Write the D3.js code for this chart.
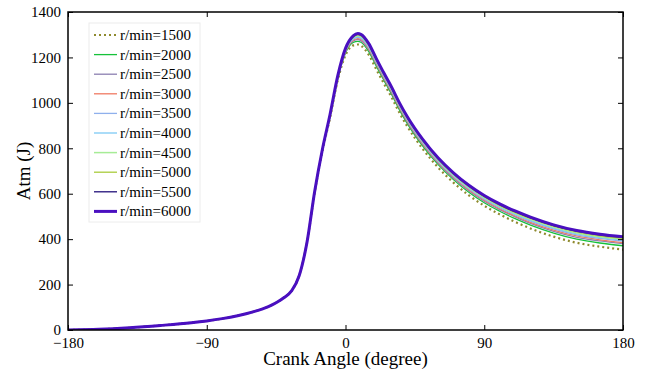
<!DOCTYPE html>
<html>
<head>
<meta charset="utf-8">
<script src="https://cdn.jsdelivr.net/npm/d3@7"></script>
</head>
<body style="margin:0; background:#fff">
<div id="chart"></div>
<script>
// crank angle samples (degree)
const compressionAngles = [-180, -160, -140, -120, -100, -90, -80, -70, -60, -50, -45, -40, -35, -30, -25];
const combustionAngles = [-20, -15, -10, -5, 0, 5, 8, 10, 15, 20, 25, 30, 35, 40, 50, 60, 70, 80, 90, 100, 110, 120, 135, 150, 165, 180];

// compression stroke is the same for every speed
const compression = [0, 3, 10, 20, 32, 40, 50, 63, 80, 103, 120, 142, 172, 240, 385];

// values after -20 degree, one list per engine speed
const rpm1500 = [605, 785, 935, 1100, 1210, 1253, 1257, 1252, 1212, 1147, 1084, 1023, 956, 897, 798, 716, 649, 593, 547, 509, 476, 447, 411, 384, 367, 354];
const rpm2000 = [606, 788, 939, 1106, 1219, 1266, 1271, 1267, 1227, 1161, 1098, 1036, 969, 910, 811, 729, 662, 606, 560, 523, 490, 462, 427, 400, 383, 371];
const rpm2500 = [607, 789, 942, 1109, 1223, 1272, 1279, 1274, 1234, 1169, 1105, 1043, 976, 916, 817, 735, 668, 613, 567, 530, 498, 469, 434, 408, 392, 380];
const rpm3000 = [608, 790, 943, 1111, 1226, 1276, 1283, 1279, 1239, 1173, 1109, 1048, 980, 921, 821, 739, 673, 617, 572, 534, 502, 474, 440, 414, 397, 385];
const rpm3500 = [608, 791, 945, 1113, 1229, 1280, 1288, 1284, 1244, 1178, 1114, 1052, 985, 925, 825, 743, 677, 622, 576, 539, 507, 479, 445, 419, 403, 391];
const rpm4000 = [609, 792, 946, 1115, 1232, 1284, 1292, 1288, 1248, 1182, 1118, 1056, 988, 928, 829, 747, 680, 625, 580, 543, 511, 483, 449, 423, 407, 396];
const rpm4500 = [609, 793, 947, 1116, 1234, 1287, 1295, 1292, 1252, 1185, 1121, 1059, 991, 931, 832, 750, 683, 628, 583, 546, 514, 487, 453, 427, 411, 400];
const rpm5000 = [609, 794, 948, 1118, 1236, 1290, 1299, 1296, 1256, 1189, 1124, 1063, 995, 935, 835, 753, 687, 632, 587, 549, 518, 491, 457, 432, 415, 404];
const rpm5500 = [610, 794, 949, 1119, 1238, 1292, 1302, 1299, 1259, 1192, 1127, 1065, 997, 937, 837, 755, 689, 634, 589, 552, 521, 494, 460, 435, 419, 408];
const rpm6000 = [610, 795, 950, 1120, 1240, 1295, 1305, 1302, 1262, 1195, 1130, 1068, 1000, 940, 840, 758, 692, 637, 592, 555, 524, 497, 463, 438, 422, 411];

const seriesNames = ["r/min=1500", "r/min=2000", "r/min=2500", "r/min=3000", "r/min=3500",
                     "r/min=4000", "r/min=4500", "r/min=5000", "r/min=5500", "r/min=6000"];
const seriesValues = [rpm1500, rpm2000, rpm2500, rpm3000, rpm3500, rpm4000, rpm4500, rpm5000, rpm5500, rpm6000];
const seriesColors = ["#8f8a2e", "#16c23a", "#8c7fb0", "#f07a62", "#8fb0ec", "#7ccaf5", "#a6ec96", "#a9cc3c", "#22107a", "#4a0fc0"];
const seriesWidths = [2.2, 1.3, 1.3, 1.3, 1.3, 1.3, 1.5, 1.3, 1.3, 3];
const seriesDash = ["2,3", null, null, null, null, null, null, null, null, null];

const xTicks = [-180, -90, 0, 90, 180];
const yTicks = [0, 200, 400, 600, 800, 1000, 1200, 1400];

const FONT = "Liberation Serif";
const W = 648, H = 371;
const margin = { top: 12, right: 25, bottom: 41, left: 68 };
const width = W - margin.left - margin.right;
const height = H - margin.top - margin.bottom;

const svg = d3.select("#chart").append("svg")
    .attr("width", W)
    .attr("height", H)
    .attr("font-family", FONT)
    .style("display", "block");

const g = svg.append("g")
    .attr("transform", `translate(${margin.left},${margin.top})`);

const x = d3.scaleLinear().domain([-180, 180]).range([0, width]);
const y = d3.scaleLinear().domain([0, 1400]).range([height, 0]);

// build point lists
const allAngles = compressionAngles.concat(combustionAngles);
const series = seriesValues.map((vals, i) => ({
    name: seriesNames[i],
    color: seriesColors[i],
    width: seriesWidths[i],
    dash: seriesDash[i],
    points: allAngles.map((a, j) => ({ a: a, v: j < compression.length ? compression[j] : vals[j - compression.length] }))
}));

const line = d3.line()
    .x(d => x(d.a))
    .y(d => y(d.v))
    .curve(d3.curveMonotoneX);

g.append("defs").append("clipPath").attr("id", "clip")
    .append("rect").attr("width", width).attr("height", height);

g.append("g").attr("clip-path", "url(#clip)")
    .selectAll("path")
    .data(series)
    .join("path")
    .attr("d", d => line(d.points))
    .attr("fill", "none")
    .attr("stroke", d => d.color)
    .attr("stroke-width", d => d.width)
    .attr("stroke-dasharray", d => d.dash)
    .attr("stroke-linejoin", "round");

// axes, ticks pointing inward
const tickStyle = sel => {
    sel.attr("font-family", FONT).attr("font-size", 15);
    sel.select(".domain").remove();
    sel.selectAll(".tick line").attr("stroke", "#000").attr("stroke-width", 1);
    sel.selectAll(".tick text").attr("fill", "#000").attr("font-family", FONT);
};

g.append("g")
    .attr("transform", `translate(0,${height})`)
    .call(d3.axisBottom(x).tickValues(xTicks).tickSize(-5).tickPadding(7).tickFormat(d3.format("d")))
    .call(tickStyle);

g.append("g")
    .call(d3.axisTop(x).tickValues(xTicks).tickSize(-5).tickFormat(""))
    .call(tickStyle);

g.append("g")
    .call(d3.axisLeft(y).tickValues(yTicks).tickSize(-5).tickPadding(7).tickFormat(d3.format("d")))
    .call(tickStyle);

g.append("g")
    .attr("transform", `translate(${width},0)`)
    .call(d3.axisRight(y).tickValues(yTicks).tickSize(-5).tickFormat(""))
    .call(tickStyle);

// frame
g.append("rect")
    .attr("width", width)
    .attr("height", height)
    .attr("fill", "none")
    .attr("stroke", "#000")
    .attr("stroke-width", 1.5);

// axis titles
svg.append("text")
    .attr("x", margin.left + width / 2)
    .attr("y", H - 6)
    .attr("text-anchor", "middle")
    .attr("font-family", FONT)
    .attr("font-size", 19)
    .text("Crank Angle (degree)");

svg.append("text")
    .attr("transform", `translate(30,${margin.top + height / 2}) rotate(-90)`)
    .attr("text-anchor", "middle")
    .attr("font-family", FONT)
    .attr("font-size", 19)
    .text("Atm (J)");

// legend
const legend = svg.append("g").attr("transform", "translate(89,23)");
legend.append("rect")
    .attr("width", 111)
    .attr("height", 199)
    .attr("fill", "#fff")
    .attr("stroke", "#ececec")
    .attr("stroke-width", 1);

series.forEach((s, i) => {
    const row = legend.append("g").attr("transform", `translate(0,${12 + i * 19.6})`);
    row.append("line")
        .attr("x1", 5).attr("x2", 28)
        .attr("stroke", s.color)
        .attr("stroke-width", s.width)
        .attr("stroke-dasharray", s.dash);
    row.append("text")
        .attr("x", 31)
        .attr("y", 5)
        .attr("font-family", FONT)
        .attr("font-size", 15)
        .text(s.name);
});
</script>
</body>
</html>
